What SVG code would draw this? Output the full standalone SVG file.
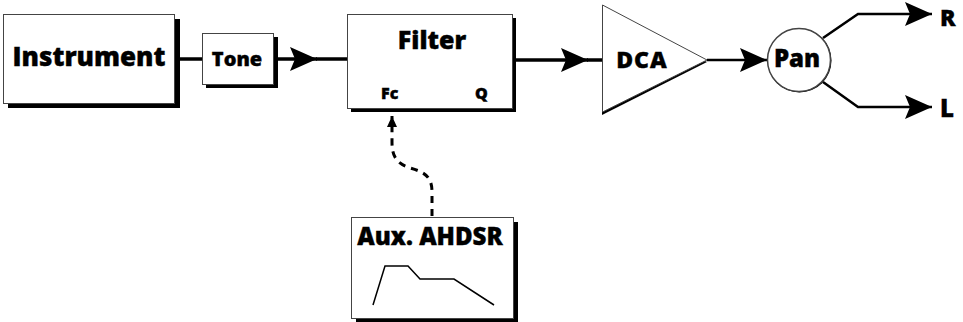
<svg xmlns="http://www.w3.org/2000/svg" width="963" height="322" viewBox="0 0 963 322">
<style>
.box{fill:#fff;stroke:#444;stroke-width:1}
.sh{fill:#000}
.t{font-family:"Open Sans","DejaVu Sans",sans-serif;font-weight:800;fill:#000;stroke:#000;stroke-width:0.4}
.c{fill:none;stroke:#000;stroke-width:3.5}
.d{fill:none;stroke:#000;stroke-width:3;stroke-dasharray:7,6}
</style>
<defs>
<marker id="ah" markerUnits="userSpaceOnUse" markerWidth="30" markerHeight="26" refX="27" refY="12" orient="auto" overflow="visible">
<path d="M27,12 L0,0 L5,12 L0,24 Z" fill="#000"/>
</marker>
<marker id="ahs" markerUnits="userSpaceOnUse" markerWidth="12" markerHeight="12" refX="11" refY="5" orient="auto" overflow="visible">
<path d="M11,5 L0,0 L0,10 Z" fill="#000"/>
</marker>
</defs>
<rect width="963" height="322" fill="#fff"/>
<g id="connectors">
<line class="c" x1="175" y1="59" x2="202" y2="59"/>
<line class="c" x1="273" y1="59" x2="317" y2="59" marker-end="url(#ah)"/>
<line class="c" x1="316" y1="59" x2="347" y2="59"/>
<line class="c" x1="512" y1="60" x2="588" y2="60" marker-end="url(#ah)"/>
<line class="c" x1="587" y1="60" x2="602" y2="60"/>
<line class="c" style="stroke-width:2.5" x1="707" y1="60" x2="767" y2="60" marker-end="url(#ah)"/>
<polyline class="c" style="stroke-width:2.5" points="823,38 858,14 932,14" marker-end="url(#ah)"/>
<polyline class="c" style="stroke-width:2.5" points="823,82 858,107 932,107" marker-end="url(#ah)"/>
<path class="d" d="M432,216 L432,192 C432,176 424,172 410,168 C396,163 392,156 392,142 L392,116" marker-end="url(#ahs)"/>
</g>
<g id="instrument">
<rect class="sh" x="8" y="19" width="172" height="89"/>
<rect class="box" x="3.5" y="14.5" width="171" height="89"/>
<text class="t" x="89" y="66" font-size="26" text-anchor="middle">Instrument</text>
</g>
<g id="tone">
<rect class="sh" x="206" y="37" width="72" height="51"/>
<rect class="box" x="202.5" y="33.5" width="71" height="51"/>
<text class="t" x="237" y="66" font-size="20" text-anchor="middle">Tone</text>
</g>
<g id="filter">
<rect class="sh" x="351" y="18" width="165" height="94"/>
<rect class="box" x="347.5" y="14.5" width="165" height="94"/>
<text class="t" x="432" y="49" font-size="25" text-anchor="middle">Filter</text>
<text class="t" x="381" y="99" font-size="16">Fc</text>
<text class="t" x="475" y="99" font-size="16">Q</text>
</g>
<g id="dca">
<polygon class="sh" points="602,8 707,62 602,115"/>
<polygon class="box" points="602.5,5 707,60 602.5,112"/>
<text class="t" x="642" y="68" font-size="23" letter-spacing="1" text-anchor="middle">DCA</text>
</g>
<g id="pan">
<circle class="sh" cx="799.5" cy="60.5" r="32"/>
<circle class="box" style="stroke-width:1.5" cx="799" cy="60" r="31.5"/>
<text class="t" x="797" y="67" font-size="24" text-anchor="middle">Pan</text>
</g>
<g id="outR"><text class="t" x="940" y="26" font-size="23">R</text></g>
<g id="outL"><text class="t" x="940" y="117" font-size="24">L</text></g>
<g id="aux">
<rect class="sh" x="356" y="222" width="162" height="101"/>
<rect class="box" x="351.5" y="217.5" width="162" height="101"/>
<text class="t" x="430" y="245" font-size="24" text-anchor="middle">Aux. AHDSR</text>
<polyline fill="none" stroke="#000" stroke-width="1.5" points="373,305 385,266 408,266 420,279 454,279 494,305"/>
</g>
</svg>
